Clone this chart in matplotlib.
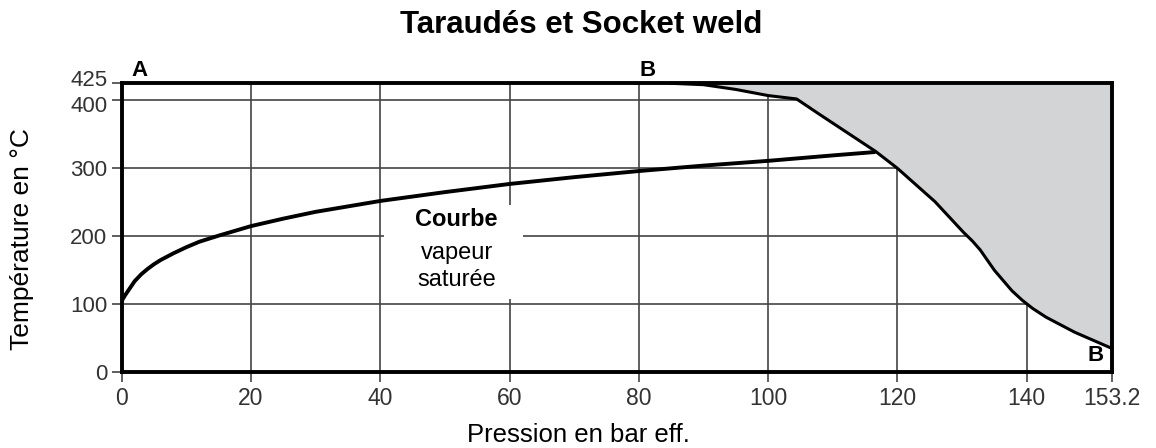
import matplotlib.pyplot as plt
from matplotlib.patches import Rectangle
from matplotlib.transforms import ScaledTranslation

plt.rcParams['font.family'] = ['Liberation Sans', 'DejaVu Sans']

# saturated steam curve (bar eff. -> degC)
satP = [0, 0.5, 1, 2, 3, 4, 5, 6, 8, 10, 12, 15, 20, 25, 30, 40, 50, 60, 70, 80, 90, 100, 110, 116.6]
satT = [105, 113, 120, 134, 144, 152, 159, 165, 175, 184, 192, 201, 215, 226, 236, 252, 265, 277, 287, 296, 304, 311, 319, 324]

# limit curve B
limP = [85, 90, 95, 100, 104.4, 108, 112.3, 116.6, 120, 125.8, 130.2, 131.6, 132.8, 135, 137.7, 139.3, 140.9, 143, 147.4, 153.2]
limT = [425, 423, 416, 407, 402, 379, 352, 325, 300, 251, 206, 193, 180, 150, 120, 106, 94, 81, 59, 35]

xticks = [0, 20, 40, 60, 80, 100, 120, 140, 153.2]
xlabels = ['0', '20', '40', '60', '80', '100', '120', '140', '153.2']
yticks = [0, 100, 200, 300, 400, 425]

fig = plt.figure(figsize=(11.56, 4.48), dpi=100)
ax = fig.add_axes([0.1053, 0.169, 0.962 - 0.1053, 0.814 - 0.169])

ax.set_xlim(0, 153.2)
ax.set_ylim(0, 425)

ax.fill_between(limP, limT, 425, color='#d3d4d6', zorder=1, lw=0)

ax.set_xticks(xticks)
ax.set_xticklabels(xlabels)
ax.set_yticks(yticks)
ax.grid(True, color='#444444', lw=1.2, zorder=0)
ax.set_axisbelow(True)
ax.tick_params(direction='out', length=7.5, width=1.2, color='#444444',
               labelcolor='#333333', pad=3)
ax.tick_params(axis='x', labelsize=16.5)
ax.tick_params(axis='y', labelsize=16)

# 425 and 400 sit very close: nudge them apart
ylabs = ax.get_yticklabels()
ylabs[-1].set_transform(ylabs[-1].get_transform() + ScaledTranslation(0, 3.5 / 72, fig.dpi_scale_trans))
ylabs[-2].set_transform(ylabs[-2].get_transform() + ScaledTranslation(0, -2.5 / 72, fig.dpi_scale_trans))

for s in ax.spines.values():
    s.set_linewidth(2.8)
    s.set_color('black')

# white box behind the label
ax.add_patch(Rectangle((40.6, 108), 21.4, 138, facecolor='white', edgecolor='none', zorder=2))

ax.plot(satP, satT, color='black', lw=2.8, zorder=3, solid_capstyle='butt')
ax.plot(limP, limT, color='black', lw=2.2, zorder=3, clip_on=False)

ax.text(51.8, 224, 'Courbe', ha='center', va='center', fontsize=17, fontweight='bold', zorder=4)
ax.text(51.8, 176, 'vapeur', ha='center', va='center', fontsize=17, zorder=4)
ax.text(51.8, 136, 'saturée', ha='center', va='center', fontsize=17, zorder=4)

ax.text(2.8, 428, 'A', ha='center', va='bottom', fontsize=16, fontweight='bold', clip_on=False)
ax.text(81.4, 428, 'B', ha='center', va='bottom', fontsize=16, fontweight='bold', clip_on=False)
ax.text(150.6, 25, 'B', ha='center', va='center', fontsize=16, fontweight='bold', zorder=4)

fig.text(0.503, 0.9256, 'Taraudés et Socket weld', ha='center', va='baseline', fontsize=22.5, fontweight='bold')
fig.text(0.5, 0.014, 'Pression en bar eff.', ha='center', va='baseline', fontsize=18.5)
fig.text(0.019, 0.4665, 'Température en °C', ha='center', va='center', fontsize=19, rotation=90)

fig.savefig('out.png', dpi=100)
